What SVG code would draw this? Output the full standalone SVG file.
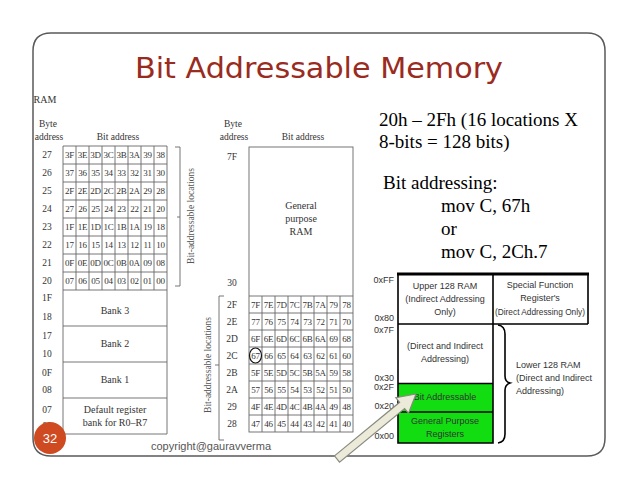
<svg xmlns="http://www.w3.org/2000/svg" width="638" height="493" viewBox="0 0 638 493">
<style>
.frame{fill:none;stroke:#5a5a5a;stroke-width:1.5}
.title{font-family:"DejaVu Sans",sans-serif;font-size:28px;fill:#9a2b21}
.c{font-family:"Liberation Serif",serif;font-size:9px;fill:#333;text-anchor:middle;letter-spacing:-0.3px}
.lb{font-family:"Liberation Serif",serif;font-size:9.5px;fill:#333;text-anchor:middle}
.bk{font-family:"Liberation Serif",serif;font-size:10px;fill:#333;text-anchor:middle}
.vt{font-family:"Liberation Serif",serif;font-size:9.5px;fill:#555;text-anchor:middle}
.g{stroke:#666;stroke-width:0.9;fill:none}
.rt{font-family:"Liberation Serif",serif;font-size:19px;fill:#000}
.m{font-family:"Liberation Sans Narrow","Liberation Sans",sans-serif;font-size:9px;fill:#333;text-anchor:middle}
.ma{font-family:"Liberation Sans Narrow","Liberation Sans",sans-serif;font-size:9px;fill:#333;text-anchor:end}
.mb{stroke:#000;stroke-width:1.6;fill:none}
.copy{font-family:"Liberation Sans",sans-serif;font-size:11px;fill:#555}
</style>

<g id="frame">
<path class="frame" d="M51,33 H587 Q605,33 605,51 V438 Q605,456 587,456 H51 Q33,456 33,438 V51 Q33,33 51,33 Z"/>
</g>

<g id="title">
<text class="title" x="135" y="78" textLength="368" lengthAdjust="spacingAndGlyphs">Bit Addressable Memory</text>
</g>

<g id="left-table">
<text class="bk" x="45" y="103">RAM</text>
<text class="lb" x="48" y="127">Byte</text>
<text class="lb" x="49" y="140">address</text>
<text class="lb" x="118" y="140">Bit address</text>
<path class="g" d="M63,146V434M76,146V290M89,146V290M102,146V290M115,146V290M128,146V290M141,146V290M154,146V290M167,146V434
M63,146H167M63,164H167M63,182H167M63,200H167M63,218H167M63,236H167M63,254H167M63,272H167M63,290H167M63,326H167M63,362H167M63,398H167M63,434H167"/>
<g class="lb">
<text x="47" y="158">27</text><text x="47" y="176">26</text><text x="47" y="194">25</text><text x="47" y="212">24</text>
<text x="47" y="230">23</text><text x="47" y="248">22</text><text x="47" y="266">21</text><text x="47" y="284">20</text>
<text x="47" y="301">1F</text><text x="47" y="320">18</text><text x="47" y="339">17</text><text x="47" y="357">10</text>
<text x="47" y="376">0F</text><text x="47" y="393">08</text><text x="47" y="413">07</text><text x="47" y="429">00</text>
</g>
<g class="c">
<text x="69.5" y="158">3F</text><text x="82.5" y="158">3E</text><text x="95.5" y="158">3D</text><text x="108.5" y="158">3C</text><text x="121.5" y="158">3B</text><text x="134.5" y="158">3A</text><text x="147.5" y="158">39</text><text x="160.5" y="158">38</text>
<text x="69.5" y="176">37</text><text x="82.5" y="176">36</text><text x="95.5" y="176">35</text><text x="108.5" y="176">34</text><text x="121.5" y="176">33</text><text x="134.5" y="176">32</text><text x="147.5" y="176">31</text><text x="160.5" y="176">30</text>
<text x="69.5" y="194">2F</text><text x="82.5" y="194">2E</text><text x="95.5" y="194">2D</text><text x="108.5" y="194">2C</text><text x="121.5" y="194">2B</text><text x="134.5" y="194">2A</text><text x="147.5" y="194">29</text><text x="160.5" y="194">28</text>
<text x="69.5" y="212">27</text><text x="82.5" y="212">26</text><text x="95.5" y="212">25</text><text x="108.5" y="212">24</text><text x="121.5" y="212">23</text><text x="134.5" y="212">22</text><text x="147.5" y="212">21</text><text x="160.5" y="212">20</text>
<text x="69.5" y="230">1F</text><text x="82.5" y="230">1E</text><text x="95.5" y="230">1D</text><text x="108.5" y="230">1C</text><text x="121.5" y="230">1B</text><text x="134.5" y="230">1A</text><text x="147.5" y="230">19</text><text x="160.5" y="230">18</text>
<text x="69.5" y="248">17</text><text x="82.5" y="248">16</text><text x="95.5" y="248">15</text><text x="108.5" y="248">14</text><text x="121.5" y="248">13</text><text x="134.5" y="248">12</text><text x="147.5" y="248">11</text><text x="160.5" y="248">10</text>
<text x="69.5" y="266">0F</text><text x="82.5" y="266">0E</text><text x="95.5" y="266">0D</text><text x="108.5" y="266">0C</text><text x="121.5" y="266">0B</text><text x="134.5" y="266">0A</text><text x="147.5" y="266">09</text><text x="160.5" y="266">08</text>
<text x="69.5" y="284">07</text><text x="82.5" y="284">06</text><text x="95.5" y="284">05</text><text x="108.5" y="284">04</text><text x="121.5" y="284">03</text><text x="134.5" y="284">02</text><text x="147.5" y="284">01</text><text x="160.5" y="284">00</text>
</g>
<text class="bk" x="115" y="314">Bank 3</text>
<text class="bk" x="115" y="347">Bank 2</text>
<text class="bk" x="115" y="383">Bank 1</text>
<text class="bk" x="115" y="413">Default register</text>
<text class="bk" x="115" y="426">bank for R0–R7</text>
<path class="g" d="M175,147H180V286H175M180,217H177"/>
<text class="vt" transform="translate(194,216) rotate(-90)">Bit-addressable locations</text>
</g>

<g id="middle-table">
<text class="lb" x="233" y="127">Byte</text>
<text class="lb" x="234" y="140">address</text>
<text class="lb" x="303" y="140">Bit address</text>
<rect class="g" x="249" y="147" width="104" height="285"/>
<path class="g" d="M262,296V432M275,296V432M288,296V432M301,296V432M314,296V432M327,296V432M340,296V432
M249,296H353M249,313H353M249,330H353M249,347H353M249,364H353M249,381H353M249,398H353M249,415H353"/>
<text class="bk" x="301" y="209">General</text>
<text class="bk" x="301" y="222">purpose</text>
<text class="bk" x="301" y="235">RAM</text>
<g class="lb">
<text x="232" y="160">7F</text><text x="232" y="286">30</text>
<text x="232" y="307.7">2F</text><text x="232" y="324.7">2E</text><text x="232" y="341.7">2D</text><text x="232" y="358.7">2C</text>
<text x="232" y="375.7">2B</text><text x="232" y="392.7">2A</text><text x="232" y="409.7">29</text><text x="232" y="426.7">28</text>
</g>
<g class="c">
<text x="255.5" y="307.7">7F</text><text x="268.5" y="307.7">7E</text><text x="281.5" y="307.7">7D</text><text x="294.5" y="307.7">7C</text><text x="307.5" y="307.7">7B</text><text x="320.5" y="307.7">7A</text><text x="333.5" y="307.7">79</text><text x="346.5" y="307.7">78</text>
<text x="255.5" y="324.7">77</text><text x="268.5" y="324.7">76</text><text x="281.5" y="324.7">75</text><text x="294.5" y="324.7">74</text><text x="307.5" y="324.7">73</text><text x="320.5" y="324.7">72</text><text x="333.5" y="324.7">71</text><text x="346.5" y="324.7">70</text>
<text x="255.5" y="341.7">6F</text><text x="268.5" y="341.7">6E</text><text x="281.5" y="341.7">6D</text><text x="294.5" y="341.7">6C</text><text x="307.5" y="341.7">6B</text><text x="320.5" y="341.7">6A</text><text x="333.5" y="341.7">69</text><text x="346.5" y="341.7">68</text>
<text x="255.5" y="358.7">67</text><text x="268.5" y="358.7">66</text><text x="281.5" y="358.7">65</text><text x="294.5" y="358.7">64</text><text x="307.5" y="358.7">63</text><text x="320.5" y="358.7">62</text><text x="333.5" y="358.7">61</text><text x="346.5" y="358.7">60</text>
<text x="255.5" y="375.7">5F</text><text x="268.5" y="375.7">5E</text><text x="281.5" y="375.7">5D</text><text x="294.5" y="375.7">5C</text><text x="307.5" y="375.7">5B</text><text x="320.5" y="375.7">5A</text><text x="333.5" y="375.7">59</text><text x="346.5" y="375.7">58</text>
<text x="255.5" y="392.7">57</text><text x="268.5" y="392.7">56</text><text x="281.5" y="392.7">55</text><text x="294.5" y="392.7">54</text><text x="307.5" y="392.7">53</text><text x="320.5" y="392.7">52</text><text x="333.5" y="392.7">51</text><text x="346.5" y="392.7">50</text>
<text x="255.5" y="409.7">4F</text><text x="268.5" y="409.7">4E</text><text x="281.5" y="409.7">4D</text><text x="294.5" y="409.7">4C</text><text x="307.5" y="409.7">4B</text><text x="320.5" y="409.7">4A</text><text x="333.5" y="409.7">49</text><text x="346.5" y="409.7">48</text>
<text x="255.5" y="426.7">47</text><text x="268.5" y="426.7">46</text><text x="281.5" y="426.7">45</text><text x="294.5" y="426.7">44</text><text x="307.5" y="426.7">43</text><text x="320.5" y="426.7">42</text><text x="333.5" y="426.7">41</text><text x="346.5" y="426.7">40</text>
</g>
<ellipse cx="255.5" cy="355.5" rx="6" ry="7.5" fill="none" stroke="#111" stroke-width="1.2"/>
<path class="g" d="M224,296H219V440H224M219,365H215"/>
<text class="vt" transform="translate(211,365) rotate(-90)">Bit-addressable locations</text>
</g>

<g id="right-text">
<text class="rt" x="379" y="126">20h – 2Fh (16 locations X</text>
<text class="rt" x="379" y="148">8-bits = 128 bits)</text>
<text class="rt" x="383" y="189">Bit addressing:</text>
<text class="rt" x="441" y="212">mov C, 67h</text>
<text class="rt" x="441" y="235">or</text>
<text class="rt" x="441" y="258">mov C, 2Ch.7</text>
</g>

<g id="memory-map">
<rect x="398" y="383.5" width="95" height="28.5" fill="#11dd11"/>
<rect x="398" y="412" width="95" height="31" fill="#11dd11"/>
<path class="mb" d="M398,274V443H493V274M588,274V324M398,324H588M398,383.5H493M398,412H493"/>
<path d="M397,274H589" stroke="#000" stroke-width="2.8"/>
<path class="mb" stroke-width="1.3" d="M498,325Q505,326 505,334V376Q505,382 510,383Q505,385 505,390V434Q505,442 498,443"/>
<text class="m" x="445" y="289">Upper 128 RAM</text>
<text class="m" x="445" y="302">(Indirect Addressing</text>
<text class="m" x="445" y="315">Only)</text>
<text class="m" x="540" y="288">Special Function</text>
<text class="m" x="540" y="301">Register's</text>
<text class="m" x="540" y="315" textLength="90" lengthAdjust="spacingAndGlyphs">(Direct Addressing Only)</text>
<text class="m" x="445" y="349">(Direct and Indirect</text>
<text class="m" x="445" y="362">Addressing)</text>
<text class="m" x="445" y="400">Bit Addressable</text>
<text class="m" x="445" y="424">General Purpose</text>
<text class="m" x="445" y="437">Registers</text>
<text class="m" x="516" y="368" text-anchor="start" style="text-anchor:start">Lower 128 RAM</text>
<text class="m" x="516" y="381" style="text-anchor:start">(Direct and Indirect</text>
<text class="m" x="516" y="394" style="text-anchor:start">Addressing)</text>
<text class="ma" x="394" y="283">0xFF</text>
<text class="ma" x="394" y="321">0x80</text>
<text class="ma" x="394" y="333">0x7F</text>
<text class="ma" x="394" y="381">0x30</text>
<text class="ma" x="394" y="390">0x2F</text>
<text class="ma" x="394" y="409">0x20</text>
<text class="ma" x="394" y="439">0x00</text>
</g>

<g id="connectors">
<polygon points="334.5,455.9 399.6,402.3 395.8,397.7 416,394 408.5,413.1 404.6,408.5 339.5,462.1" fill="#ecebd9" stroke="#8a8a80" stroke-width="1.2"/>
</g>

<g id="footer">
<circle cx="50" cy="438" r="16" fill="#cf4a21"/>
<text x="50" y="442.5" font-family="Liberation Sans,sans-serif" font-size="13" fill="#fff" text-anchor="middle">32</text>
<text class="copy" x="151" y="450">copyright@gauravverma</text>
</g>
</svg>
